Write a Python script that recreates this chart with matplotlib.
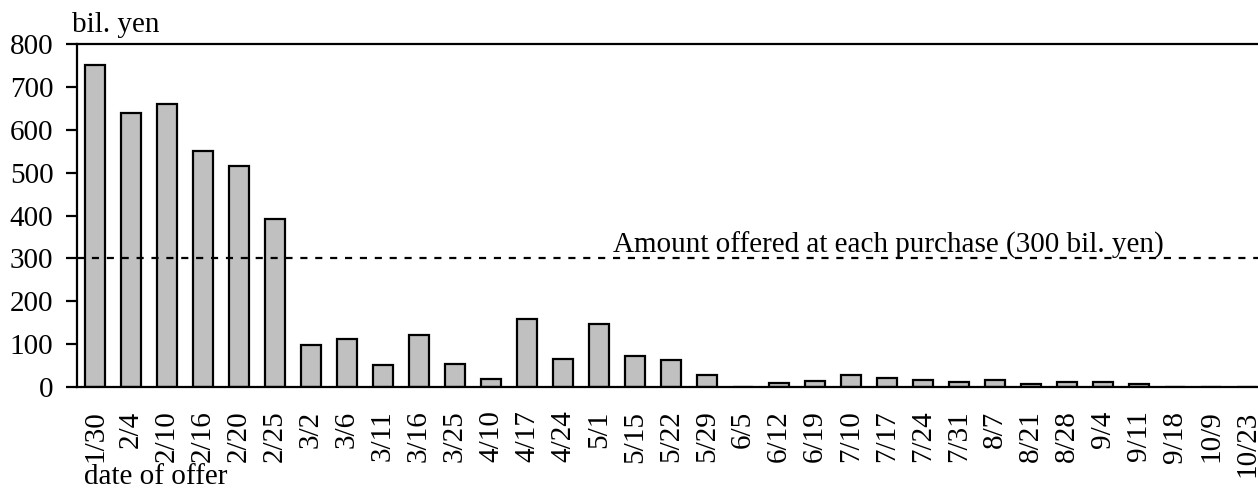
import matplotlib
matplotlib.use("Agg")
import matplotlib.pyplot as plt
import numpy as np

plt.rcParams['font.family'] = ['Liberation Serif', 'DejaVu Serif']

dates = ["1/30", "2/4", "2/10", "2/16", "2/20", "2/25", "3/2", "3/6", "3/11",
         "3/16", "3/25", "4/10", "4/17", "4/24", "5/1", "5/15", "5/22", "5/29",
         "6/5", "6/12", "6/19", "7/10", "7/17", "7/24", "7/31", "8/7", "8/21",
         "8/28", "9/4", "9/11", "9/18", "10/9", "10/23"]
bids = [750, 640, 660, 550, 515, 393, 97, 111, 51,
        122, 54, 19, 158, 66, 147, 73, 62, 28,
        0, 10, 15, 27, 20, 16, 12, 16, 8,
        12, 12, 8, 0, 0, 0]
offered = 300

fs = 21

fig = plt.figure(figsize=(12.58, 4.91), dpi=100)
ax = fig.add_axes([77 / 1258, 1 - 387 / 491, 1188 / 1258, 343 / 491])

x = np.arange(len(dates))
ax.bar(x, bids, width=0.58, color="#c0c0c0", edgecolor="black", linewidth=1.6)
ax.axhline(offered, color="black", linewidth=1.6, linestyle=(0, (3.2, 3.5)))
ax.text(14.4, 313, "Amount offered at each purchase (300 bil. yen)",
        fontsize=fs, ha="left", va="baseline")

ax.set_xlim(-0.5, len(dates) - 0.5)
ax.set_ylim(0, 800)
ax.set_yticks(range(0, 801, 100))
ax.set_xticks(x)
ax.set_xticklabels(dates, rotation=90, fontsize=fs)
ax.tick_params(axis="y", labelsize=fs, length=8, width=1.6, direction="out", pad=9)
ax.tick_params(axis="x", length=0, pad=17)

ax.spines["right"].set_visible(False)
for s in ["left", "top", "bottom"]:
    ax.spines[s].set_linewidth(1.6)

fig.text(72 / 1258, 1 - 32 / 491, "bil. yen", fontsize=fs, ha="left", va="baseline")
fig.text(84 / 1258, 1 - 484 / 491, "date of offer", fontsize=fs, ha="left", va="baseline")

fig.savefig("out.png", dpi=100)
